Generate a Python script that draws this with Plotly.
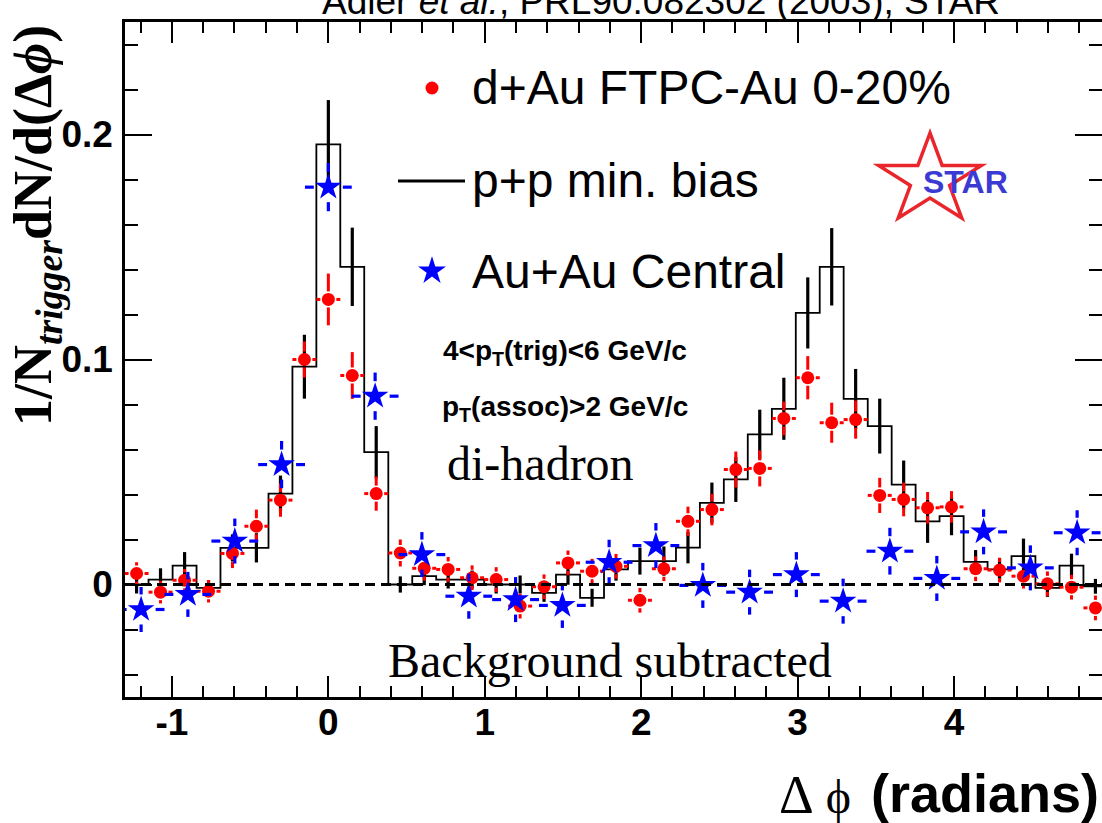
import numpy as np
import plotly.graph_objects as go

# ---------------- data ----------------
# d+Au and p+p share the same Delta-phi bins (width 2*pi/41)
PP_BIN_WIDTH = 0.15325
DPHI_BINS = [-1.226, -1.073, -0.919, -0.766, -0.613, -0.460, -0.306, -0.153,
             0.000, 0.153, 0.306, 0.460, 0.613, 0.766, 0.919, 1.073, 1.226,
             1.379, 1.532, 1.686, 1.839, 1.992, 2.145, 2.299, 2.452, 2.605,
             2.758, 2.912, 3.065, 3.218, 3.371, 3.525, 3.678, 3.831, 3.984,
             4.138, 4.291, 4.444, 4.597, 4.751, 4.904]

PP_YIELD = [0.0000, 0.0022, 0.0084, -0.0015, 0.0163, 0.0163, 0.0404, 0.0968,
            0.1956, 0.1412, 0.0588, 0.0000, 0.0037, 0.0022, 0.0022, 0.0000,
            0.0000, -0.0037, 0.0044, -0.0059, 0.0067, 0.0104, 0.0104, 0.0164,
            0.0363, 0.0467, 0.0667, 0.0781, 0.1207, 0.1412, 0.0825, 0.0704,
            0.0444, 0.0281, 0.0304, 0.0101, 0.0067, 0.0126, -0.0015, 0.0084,
            -0.0008]
PP_ERR = [0.0040, 0.0050, 0.0060, 0.0035, 0.0060, 0.0065, 0.0080, 0.0142,
          0.0197, 0.0174, 0.0116, 0.0036, 0.0040, 0.0040, 0.0040, 0.0040,
          0.0040, 0.0040, 0.0045, 0.0040, 0.0050, 0.0060, 0.0065, 0.0070,
          0.0090, 0.0100, 0.0110, 0.0138, 0.0158, 0.0172, 0.0133, 0.0122,
          0.0107, 0.0096, 0.0085, 0.0052, 0.0050, 0.0078, 0.0040, 0.0053,
          0.0033]

DAU_YIELD = [0.0049, -0.0034, 0.0019, -0.0030, 0.0138, 0.0259, 0.0375, 0.1000,
             0.1267, 0.0929, 0.0404, 0.0140, 0.0072, 0.0067, 0.0030, 0.0022,
             -0.0096, -0.0010, 0.0096, 0.0059, 0.0081, -0.0070, 0.0070, 0.0281,
             0.0333, 0.0511, 0.0516, 0.0738, 0.0919, 0.0719, 0.0733, 0.0396,
             0.0378, 0.0341, 0.0345, 0.0070, 0.0064, 0.0037, 0.0003, -0.0012,
             -0.0104]
DAU_ERR = [0.0050, 0.0050, 0.0050, 0.0050, 0.0065, 0.0074, 0.0074, 0.0080,
           0.0115, 0.0104, 0.0076, 0.0060, 0.0055, 0.0055, 0.0055, 0.0055,
           0.0055, 0.0055, 0.0055, 0.0055, 0.0055, 0.0055, 0.0055, 0.0065,
           0.0070, 0.0080, 0.0080, 0.0075, 0.0096, 0.0089, 0.0085, 0.0078,
           0.0075, 0.0070, 0.0070, 0.0055, 0.0055, 0.0055, 0.0055, 0.0055,
           0.0055]

# Au+Au central uses coarser bins (width 2*pi/21)
AUAU_BIN_WIDTH = 0.2992
AUAU_DPHI = [-1.197, -0.898, -0.598, -0.299, 0.000, 0.299, 0.598, 0.898,
             1.197, 1.496, 1.795, 2.094, 2.394, 2.693, 2.992, 3.291, 3.590,
             3.890, 4.189, 4.488, 4.787]
AUAU_YIELD = [-0.0111, -0.0044, 0.0193, 0.0533, 0.1766, 0.0837, 0.0133,
              -0.0052, -0.0067, -0.0093, 0.0099, 0.0173, -0.0004, -0.0034,
              0.0044, -0.0074, 0.0148, 0.0027, 0.0234, 0.0074, 0.0230]
AUAU_ERR = [0.0100, 0.0100, 0.0100, 0.0105, 0.0107, 0.0105, 0.0100, 0.0100,
            0.0100, 0.0100, 0.0100, 0.0100, 0.0100, 0.0100, 0.0100, 0.0100,
            0.0104, 0.0100, 0.0100, 0.0100, 0.0100]

X_TICKVALS = [-1, 0, 1, 2, 3, 4]
X_TICKTEXT = ["-1", "0", "1", "2", "3", "4"]
Y_TICKVALS = [0, 0.1, 0.2]
Y_TICKTEXT = ["0", "0.1", "0.2"]

SERIES_NAMES = ["d+Au FTPC-Au 0-20%", "p+p min. bias", "Au+Au Central"]

# ---------------- layout geometry ----------------
W, H = 1102, 823
ML, MR, MT, MB = 125, 0, 22, 126
PW, PH = W - ML - MR, H - MT - MB
X_RANGE = [-1.3, 4.946]
Y_RANGE = [-0.05, 0.25]
XPIX = PW / (X_RANGE[1] - X_RANGE[0])   # pixels per radian
YPIX = PH / (Y_RANGE[1] - Y_RANGE[0])   # pixels per unit yield


def pxx(xp):
    return (xp - ML) / PW


def pxy(yp):
    return (MT + PH - yp) / PH


RED = "#ff0000"
BLUE = "#0000ff"
BLACK = "#000000"


def gapped_errors(x, y, ex, ey, gap_x_px, gap_y_px):
    """ROOT-like error bars that leave a gap around the marker."""
    gx = gap_x_px / XPIX
    gy = gap_y_px / YPIX
    vx, vy, hx, hy = [], [], [], []
    for xi, yi, exi, eyi in zip(x, y, ex, ey):
        if eyi > gy:
            vx += [xi, xi, None, xi, xi, None]
            vy += [yi + gy, yi + eyi, None, yi - gy, yi - eyi, None]
        if exi > gx:
            hx += [xi + gx, xi + exi, None, xi - gx, xi - exi, None]
            hy += [yi, yi, None, yi, yi, None]
    return vx, vy, hx, hy


fig = go.Figure()

# p+p histogram outline
edges = [c - PP_BIN_WIDTH / 2 for c in DPHI_BINS] + [DPHI_BINS[-1] + PP_BIN_WIDTH / 2]
fig.add_trace(go.Scatter(x=edges, y=PP_YIELD + [PP_YIELD[-1]], mode="lines",
                         line=dict(color=BLACK, width=1.8, shape="hv"),
                         showlegend=False, hoverinfo="skip"))
# p+p error bars
ppx, ppy = [], []
for xi, yi, ei in zip(DPHI_BINS, PP_YIELD, PP_ERR):
    ppx += [xi, xi, None]
    ppy += [yi - ei, yi + ei, None]
fig.add_trace(go.Scatter(x=ppx, y=ppy, mode="lines",
                         line=dict(color=BLACK, width=3.2),
                         showlegend=False, hoverinfo="skip"))

# d+Au
half_pp = [PP_BIN_WIDTH / 2] * len(DPHI_BINS)
vx, vy, hx, hy = gapped_errors(DPHI_BINS, DAU_YIELD, half_pp, DAU_ERR, 8, 8)
fig.add_trace(go.Scatter(x=vx, y=vy, mode="lines", line=dict(color=RED, width=3),
                         showlegend=False, hoverinfo="skip"))
fig.add_trace(go.Scatter(x=hx, y=hy, mode="lines", line=dict(color=RED, width=3),
                         showlegend=False, hoverinfo="skip"))
fig.add_trace(go.Scatter(x=DPHI_BINS, y=DAU_YIELD, mode="markers",
                         marker=dict(symbol="circle", size=13, color=RED),
                         name=SERIES_NAMES[0], showlegend=False))

# Au+Au
half_aa = [AUAU_BIN_WIDTH / 2] * len(AUAU_DPHI)
vx, vy, hx, hy = gapped_errors(AUAU_DPHI, AUAU_YIELD, half_aa, AUAU_ERR, 14.5, 15)
fig.add_trace(go.Scatter(x=vx, y=vy, mode="lines", line=dict(color=BLUE, width=3.2),
                         showlegend=False, hoverinfo="skip"))
fig.add_trace(go.Scatter(x=hx, y=hy, mode="lines", line=dict(color=BLUE, width=3.2),
                         showlegend=False, hoverinfo="skip"))
fig.add_trace(go.Scatter(x=AUAU_DPHI, y=AUAU_YIELD, mode="markers",
                         marker=dict(symbol="star", size=20, color=BLUE, line=dict(width=0)),
                         name=SERIES_NAMES[2], showlegend=False))

# empty trace to register the right-hand tick axis
fig.add_trace(go.Scatter(x=[None], y=[None], yaxis="y2", showlegend=False, hoverinfo="skip"))

# hand-made legend symbols on a unit overlay axis
fig.add_trace(go.Scatter(x=[pxx(432)], y=[pxy(88)], xaxis="x3", yaxis="y3", mode="markers",
                         marker=dict(symbol="circle", size=13, color=RED),
                         showlegend=False, hoverinfo="skip"))
fig.add_trace(go.Scatter(x=[pxx(398), pxx(465)], y=[pxy(181), pxy(181)], xaxis="x3", yaxis="y3",
                         mode="lines", line=dict(color=BLACK, width=3),
                         showlegend=False, hoverinfo="skip"))
fig.add_trace(go.Scatter(x=[pxx(432)], y=[pxy(271)], xaxis="x3", yaxis="y3", mode="markers",
                         marker=dict(symbol="star", size=21, color=BLUE, line=dict(width=0)),
                         showlegend=False, hoverinfo="skip"))

# ---------------- shapes ----------------
shapes = []
# dashed zero line
shapes.append(dict(type="line", xref="paper", yref="y", x0=0, x1=1, y0=0, y1=0,
                   line=dict(color=BLACK, width=3, dash="10px,6px"), layer="above"))
# STAR logo star outline (slightly wider than tall, as in the picture)
cx, cy, rx, ry = 930, 180, 54, 47
pts = []
for i in range(10):
    ang = np.pi / 2 + i * np.pi / 5
    r = 1.0 if i % 2 == 0 else 0.382
    pts.append((cx + rx * r * np.cos(ang), cy - ry * r * np.sin(ang)))
path = "M " + " L ".join(f"{pxx(a):.5f},{pxy(b):.5f}" for a, b in pts) + " Z"
shapes.append(dict(type="path", xref="paper", yref="paper", path=path,
                   line=dict(color="#e8262b", width=3.5)))

# ---------------- annotations ----------------
SANS = "Liberation Sans, Arial, Helvetica, sans-serif"
SERIF = "Liberation Serif, Times New Roman, DejaVu Serif, serif"
ann = []


def add_text(text, xp, yp, size, family=SANS, xanchor="left", color=BLACK, angle=0):
    ann.append(dict(text=text, x=pxx(xp), y=pxy(yp), xref="paper", yref="paper",
                    xanchor=xanchor, yanchor="middle", showarrow=False, textangle=angle,
                    font=dict(family=family, size=size, color=color)))


add_text("Adler <i>et al.</i>, PRL90:082302 (2003), STAR", 661, 1.5, 37, xanchor="center")
add_text(SERIES_NAMES[0], 470, 88, 48)
add_text(SERIES_NAMES[1], 470, 181, 48)
add_text(SERIES_NAMES[2], 470, 271, 48)
add_text("<b>4&lt;p<sub>T</sub>(trig)&lt;6 GeV/c</b>", 441, 352, 28)
add_text("<b>p<sub>T</sub>(assoc)&gt;2 GeV/c</b>", 440, 408, 28)
add_text("di-hadron", 445, 464, 48, family=SERIF)
add_text("Background subtracted", 386, 660, 48, family=SERIF)
add_text("<b>1/N<sub><i>trigger</i></sub>dN/d(Δ<i>ϕ</i>)</b>", 37, 226, 54,
         family=SERIF, xanchor="center", angle=-90)
add_text("<b>(radians)</b>", 1101, 793, 54, xanchor="right")
add_text("<span style='font-size:54px'>Δ</span> ϕ", 853, 795, 48, family=SERIF, xanchor="right")
add_text("<b>STAR</b>", 965, 182, 32, xanchor="center", color="#3b3bd4")

# ---------------- layout ----------------
tickfont = dict(family=SANS, size=37, color=BLACK, weight="bold")
fig.update_layout(
    width=W, height=H,
    margin=dict(l=ML, r=MR, t=MT, b=MB, pad=0),
    paper_bgcolor="white", plot_bgcolor="white",
    showlegend=False,
    shapes=shapes, annotations=ann,
    xaxis=dict(range=X_RANGE, showgrid=False, zeroline=False,
               showline=True, linecolor=BLACK, linewidth=2.5, mirror="ticks",
               ticks="inside", ticklen=21, tickwidth=2, tickcolor=BLACK,
               tickvals=X_TICKVALS, ticktext=X_TICKTEXT, tickfont=tickfont,
               ticklabelstandoff=-9,
               minor=dict(ticks="inside", dtick=0.2, tick0=0, ticklen=11,
                          tickwidth=2, tickcolor=BLACK, showgrid=False)),
    yaxis=dict(range=Y_RANGE, showgrid=False, zeroline=False,
               showline=True, linecolor=BLACK, linewidth=2.5,
               ticks="inside", ticklen=27, tickwidth=2, tickcolor=BLACK,
               tickvals=Y_TICKVALS, ticktext=Y_TICKTEXT, tickfont=tickfont,
               ticklabelstandoff=2,
               minor=dict(ticks="inside", dtick=0.02, tick0=0, ticklen=13,
                          tickwidth=2, tickcolor=BLACK, showgrid=False)),
    yaxis2=dict(range=Y_RANGE, overlaying="y", side="right", showgrid=False,
                zeroline=False, showline=False, showticklabels=False,
                ticks="inside", ticklen=27, tickwidth=2, tickcolor=BLACK,
                tickvals=Y_TICKVALS,
                minor=dict(ticks="inside", dtick=0.02, tick0=0, ticklen=13,
                           tickwidth=2, tickcolor=BLACK, showgrid=False)),
    xaxis3=dict(overlaying="x", range=[0, 1], visible=False),
    yaxis3=dict(overlaying="y", range=[0, 1], visible=False),
)

fig.write_html("out.html")
